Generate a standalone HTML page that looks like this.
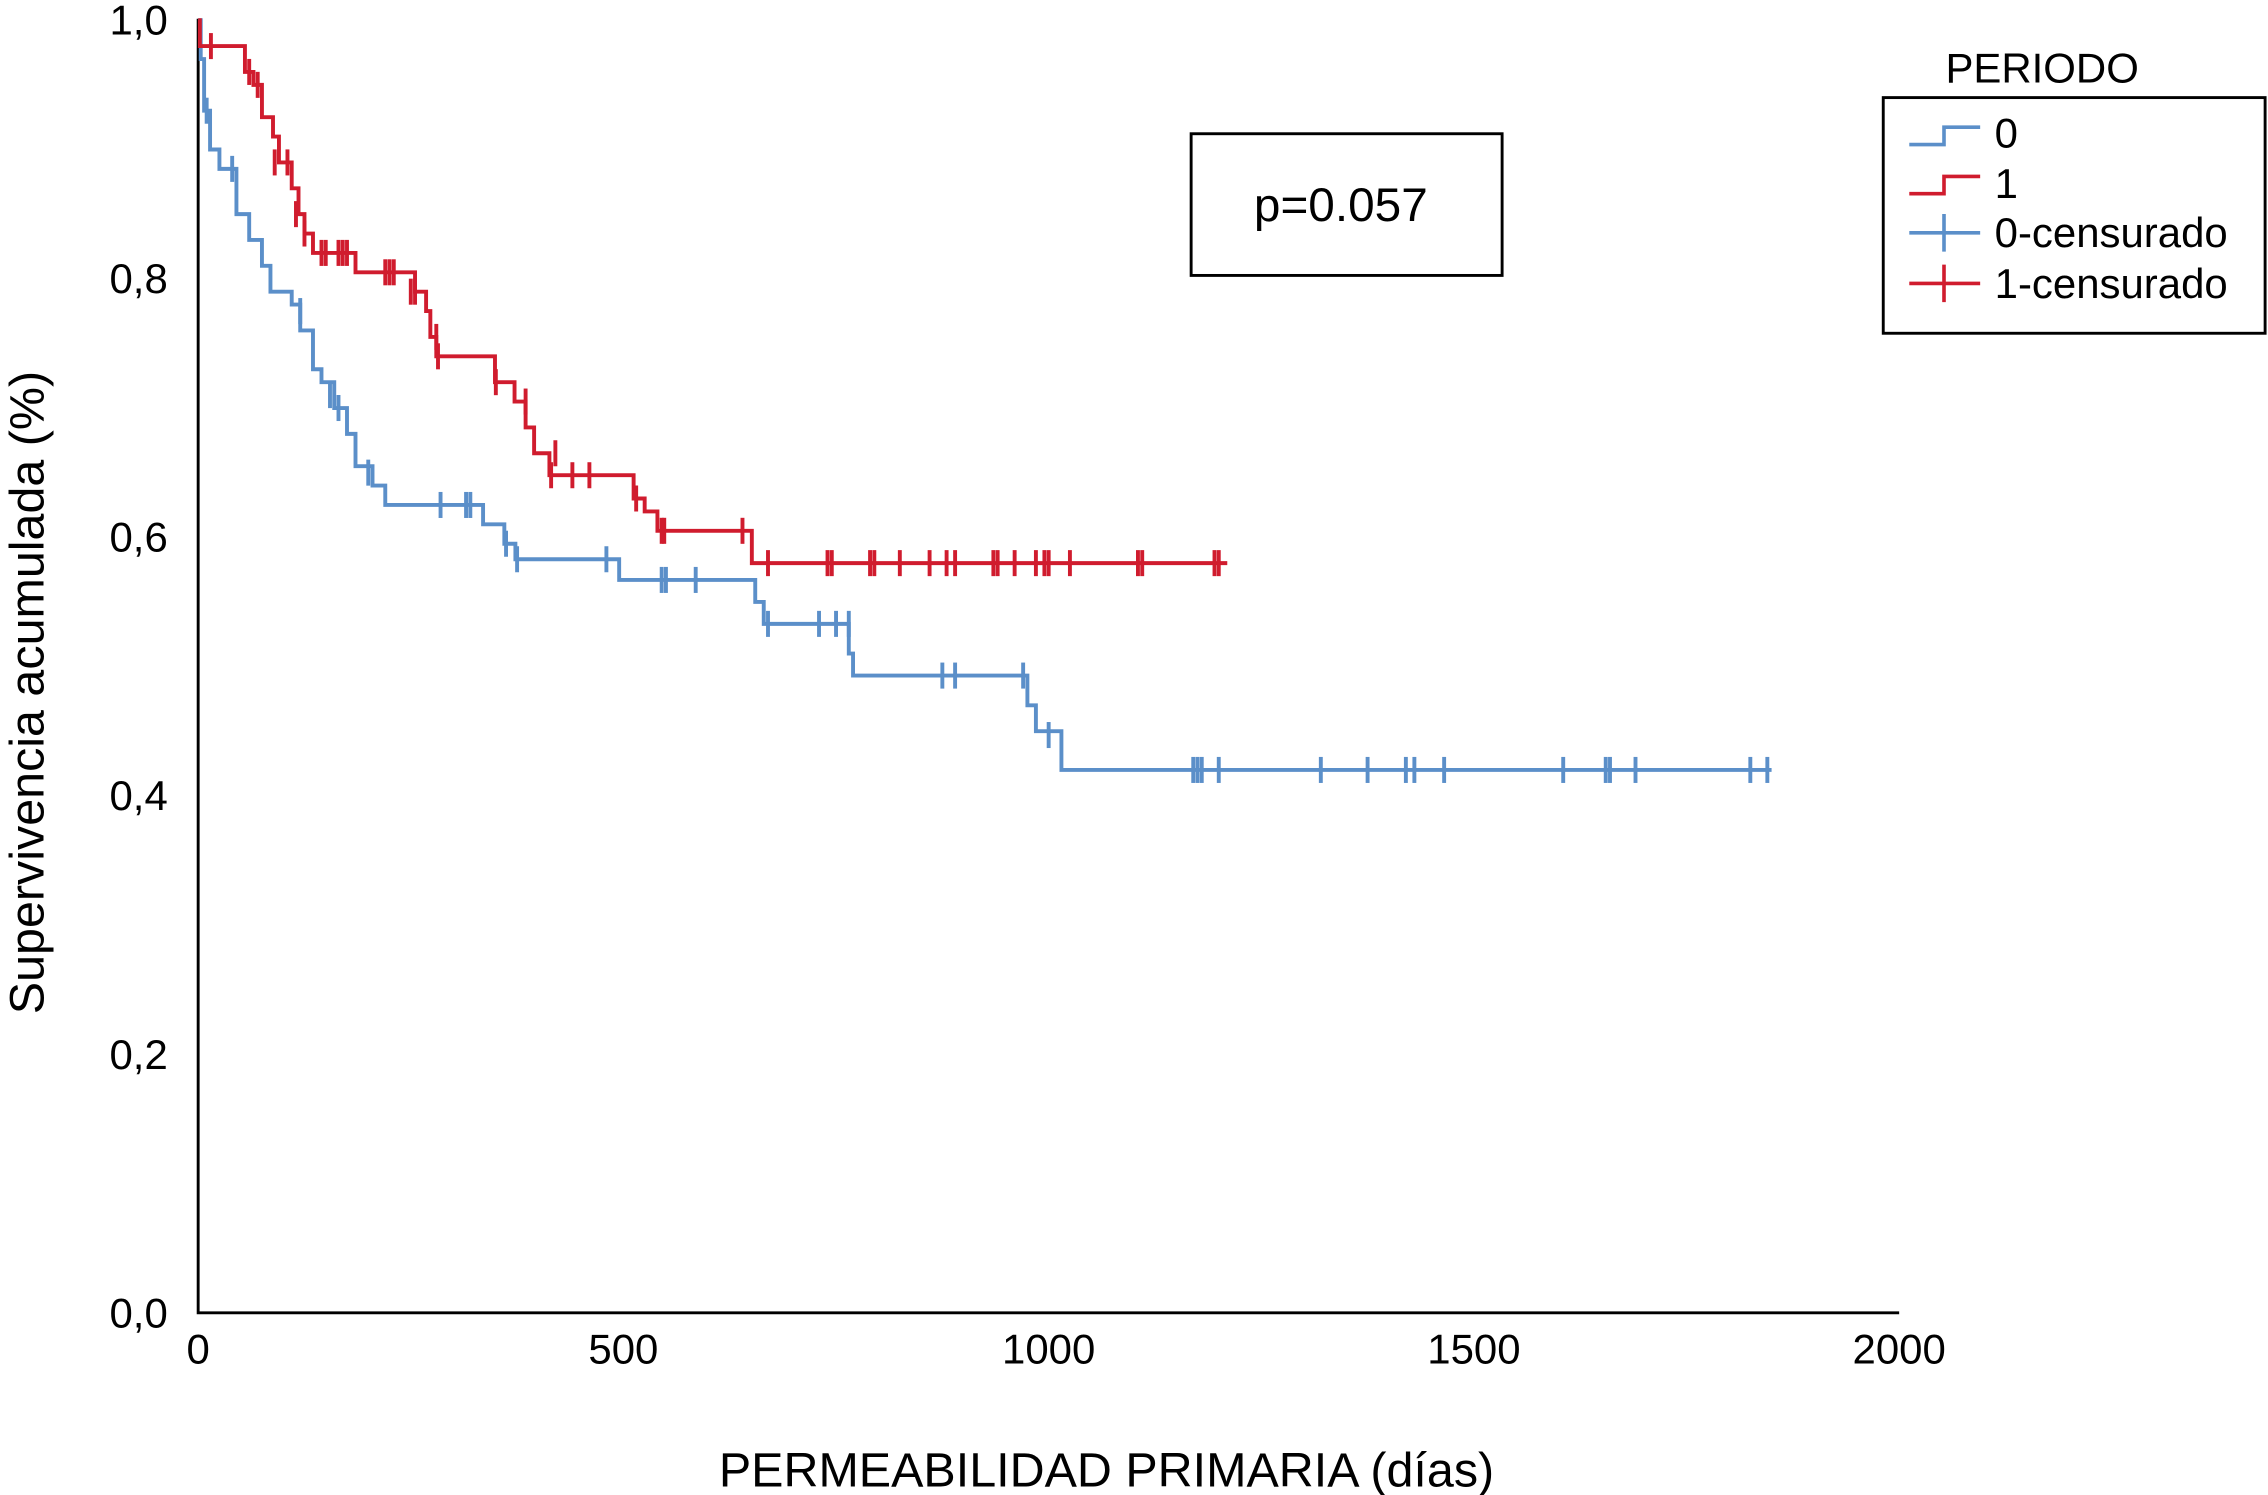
<!DOCTYPE html>
<html><head><meta charset="utf-8"><style>
html,body{margin:0;padding:0;background:#fff;}
svg{display:block;font-family:"Liberation Sans",Arial,sans-serif;}
</style></head><body>
<svg id="chart" width="2268" height="1495" viewBox="0 0 1568 1034" preserveAspectRatio="none" xmlns="http://www.w3.org/2000/svg">
<g id="axes"></g>
<g id="series"></g>
<rect x="823.5" y="92.5" width="215" height="98" fill="none" stroke="#000" stroke-width="2"/>
<text x="927" y="153" font-size="33" text-anchor="middle">p=0.057</text>
<text x="1345" y="57" font-size="29">PERIODO</text>
<g>
<rect x="1302" y="67.5" width="264" height="163" fill="none" stroke="#000" stroke-width="2"/>
<g><path d="M1320 100 H1344 V88 H1369" fill="none" stroke="#5b8fc9" stroke-width="2.5"/><text x="1379" y="102" font-size="29">0</text></g>
<g><path d="M1320 134 H1344 V122 H1369" fill="none" stroke="#d01c2e" stroke-width="2.5"/><text x="1379" y="137" font-size="29">1</text></g>
<g><path d="M1320 161 H1369 M1344 148 V174" fill="none" stroke="#5b8fc9" stroke-width="2.5"/><text x="1379" y="171" font-size="29">0-censurado</text></g>
<g><path d="M1320 196 H1369 M1344 183 V209" fill="none" stroke="#d01c2e" stroke-width="2.5"/><text x="1379" y="206" font-size="29">1-censurado</text></g>
</g>
<text transform="translate(30,479) rotate(-90)" font-size="33.5" text-anchor="middle">Supervivencia acumulada (%)</text>
<text x="765" y="1028" font-size="33.5" text-anchor="middle">PERMEABILIDAD PRIMARIA (días)</text>
</svg>
<script>
const xTicks=[0,500,1000,1500,2000];
const yTicks=[0,0.2,0.4,0.6,0.8,1.0];
const yTickLabels=["0,0","0,2","0,4","0,6","0,8","1,0"];
const blueSteps=[[3,0.97],[7,0.93],[14,0.90],[25,0.885],[45,0.85],[60,0.83],[75,0.81],[85,0.79],[110,0.78],[120,0.76],[135,0.73],[145,0.72],[160,0.70],[175,0.68],[185,0.655],[205,0.64],[220,0.625],[335,0.61],[360,0.595],[373,0.583],[495,0.567],[655,0.55],[665,0.533],[765,0.51],[770,0.493],[975,0.47],[985,0.45],[1015,0.42]];
const blueEnd=1850;
const blueCensor=[[10,0.93],[40,0.885],[120,0.775],[155,0.71],[165,0.70],[200,0.65],[285,0.625],[315,0.625],[320,0.625],[362,0.595],[375,0.583],[480,0.583],[545,0.567],[550,0.567],[585,0.567],[670,0.533],[730,0.533],[750,0.533],[765,0.533],[875,0.493],[890,0.493],[970,0.493],[1000,0.447],[1170,0.42],[1175,0.42],[1180,0.42],[1200,0.42],[1320,0.42],[1375,0.42],[1420,0.42],[1430,0.42],[1465,0.42],[1605,0.42],[1655,0.42],[1660,0.42],[1690,0.42],[1825,0.42],[1845,0.42]];
const redSteps=[[2,0.98],[55,0.96],[65,0.95],[75,0.925],[88,0.91],[95,0.89],[110,0.87],[118,0.85],[125,0.835],[135,0.82],[185,0.805],[255,0.79],[268,0.775],[273,0.755],[280,0.74],[349,0.72],[372,0.705],[385,0.685],[395,0.665],[413,0.648],[512,0.63],[525,0.62],[540,0.605],[651,0.58]];
const redEnd=1210;
const redCensor=[[15,0.98],[60,0.96],[70,0.95],[90,0.89],[105,0.89],[115,0.85],[125,0.835],[145,0.82],[150,0.82],[165,0.82],[170,0.82],[175,0.82],[220,0.805],[225,0.805],[230,0.805],[250,0.79],[255,0.79],[280,0.755],[282,0.74],[350,0.72],[385,0.705],[420,0.665],[415,0.648],[440,0.648],[460,0.648],[515,0.63],[545,0.605],[548,0.605],[640,0.605],[670,0.58],[740,0.58],[745,0.58],[790,0.58],[795,0.58],[825,0.58],[860,0.58],[880,0.58],[890,0.58],[935,0.58],[940,0.58],[960,0.58],[985,0.58],[995,0.58],[1000,0.58],[1025,0.58],[1105,0.58],[1110,0.58],[1195,0.58],[1200,0.58]];

const NS="http://www.w3.org/2000/svg";
const X=d=>137+d*0.588;
const Y=s=>908-s*894;
function mk(tag,attrs,parent,text){const e=document.createElementNS(NS,tag);for(const k in attrs)e.setAttribute(k,attrs[k]);if(text!==undefined)e.textContent=text;parent.appendChild(e);return e;}
const axes=document.getElementById('axes');
let a=mk('path',{d:`M${X(0)} ${Y(1.0)-1} V${Y(0)} H${X(2000)}`,fill:'none',stroke:'#000','stroke-width':2},axes);


xTicks.forEach(t=>{const e=mk('text',{x:X(t),y:943,'font-size':29,'text-anchor':'middle'},axes,String(t));

});
yTicks.forEach((t,i)=>{const e=mk('text',{x:116,y:Y(t)+10,'font-size':29,'text-anchor':'end'},axes,yTickLabels[i]);

});
const ser=document.getElementById('series');
function drawSeries(steps,end,cens,color,name){
  let d=`M${X(0)} ${Y(1)}`;
  steps.forEach(([t,v])=>{d+=` H${X(t)} V${Y(v)}`;});
  d+=` H${X(end)}`;
  const p=mk('path',{d:d,fill:'none',stroke:color,'stroke-width':2.7},ser);
  
  
  cens.forEach(([t,v])=>{const c=mk('path',{d:`M${X(t)} ${Y(v)-9} V${Y(v)+9}`,stroke:color,'stroke-width':2.7},ser);
  
  });
}
drawSeries(blueSteps,blueEnd,blueCensor,'#5b8fc9','series-0');
drawSeries(redSteps,redEnd,redCensor,'#d01c2e','series-1');
</script>
</body></html>
